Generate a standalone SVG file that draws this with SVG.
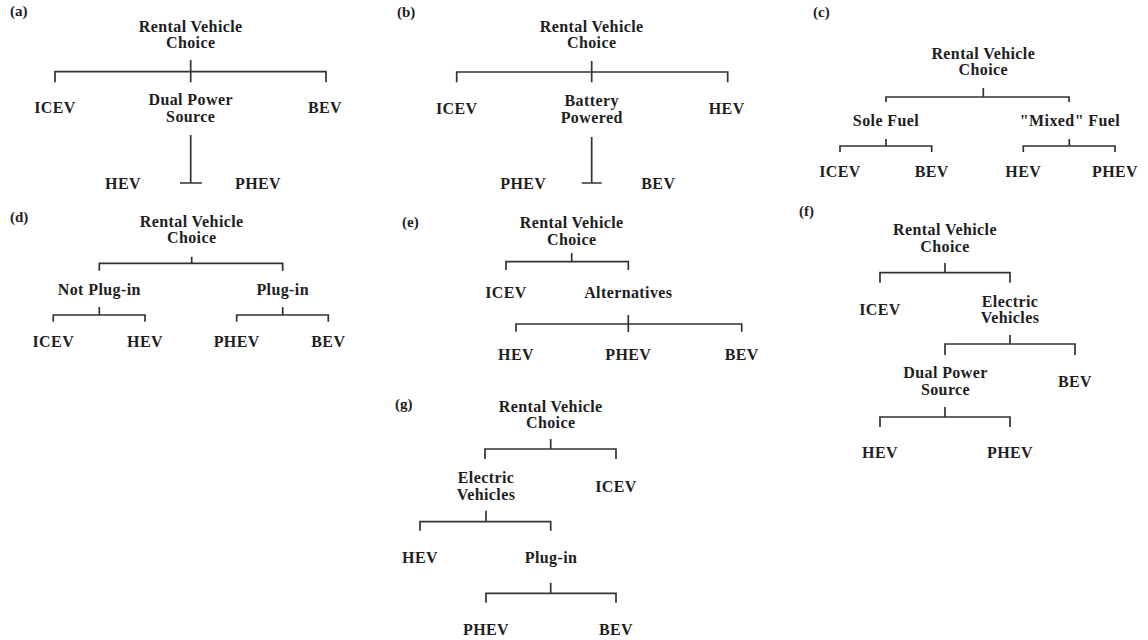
<svg xmlns="http://www.w3.org/2000/svg" width="1148" height="640" viewBox="0 0 1148 640">
<style>
text{font-family:"Liberation Serif","Times New Roman",serif;font-weight:bold;fill:#1e1e1e;}
.n{font-size:16px;text-anchor:middle;letter-spacing:0.4px;}
.lb{font-size:15px;}
.c path{fill:none;stroke:#333;stroke-width:1.7;}
</style>
<rect width="1148" height="640" fill="#fff"/>
<g id="labels">
<text class="lb" x="10" y="15.5">(a)</text>
<text class="lb" x="397" y="17">(b)</text>
<text class="lb" x="813" y="17">(c)</text>
<text class="lb" x="10" y="222">(d)</text>
<text class="lb" x="402" y="227">(e)</text>
<text class="lb" x="799" y="215.5">(f)</text>
<text class="lb" x="395" y="409">(g)</text>
</g>
<g class="c" id="connectors">
<!-- a -->
<path d="M190.7 60V82.3M55 82.3V71.7H326V82.3"/>
<path d="M190.7 135V183M180 183H202"/>
<!-- b -->
<path d="M591.7 61V82.3M456.7 82.3V72H727.7V82.3"/>
<path d="M591.7 137V183M581.7 183H601.7"/>
<!-- c -->
<path d="M983.3 88V97M886 102V97H1069V102"/>
<path d="M886 139V146M840 152V146H931.7V152"/>
<path d="M1069.3 139V146M1023.3 152V146H1115V152"/>
<!-- d -->
<path d="M191.7 256.7V263.3M99.3 270.7V263.3H282.7V270.7"/>
<path d="M99.3 307V315M53.3 321.7V315H145V321.7"/>
<path d="M282.7 307V315M236.7 321.7V315H328.3V321.7"/>
<!-- e -->
<path d="M571.7 253V261.7M506 270V261.7H628.3V270"/>
<path d="M628.3 315V332M516 331.7V324H741.7V331.7"/>
<!-- f -->
<path d="M945 263V272.7M880 282.7V272.7H1010V282.7"/>
<path d="M1010 335V344M945 355V344H1075V355"/>
<path d="M945 407V417M880 427V417H1010V427"/>
<!-- g -->
<path d="M550.7 439V449M485 459V449H616V459"/>
<path d="M486 510.7V521.7M420 530.7V521.7H550.7V530.7"/>
<path d="M550.7 582.7V593.3M486 602.7V593.3H616V602.7"/>
</g>
<!-- panel a -->
<g id="a-root"><text class="n" x="190.7" y="31.5">Rental Vehicle</text><text class="n" x="190.7" y="48">Choice</text></g>
<g id="a-icev"><text class="n" x="55" y="113">ICEV</text></g>
<g id="a-dual"><text class="n" x="190.7" y="105">Dual Power</text><text class="n" x="190.7" y="121.7">Source</text></g>
<g id="a-bev"><text class="n" x="325" y="113">BEV</text></g>
<g id="a-hev"><text class="n" x="123" y="189">HEV</text></g>
<g id="a-phev"><text class="n" x="258" y="189">PHEV</text></g>
<!-- panel b -->
<g id="b-root"><text class="n" x="591.7" y="31.5">Rental Vehicle</text><text class="n" x="591.7" y="48">Choice</text></g>
<g id="b-icev"><text class="n" x="456.7" y="114">ICEV</text></g>
<g id="b-batt"><text class="n" x="591.7" y="106">Battery</text><text class="n" x="591.7" y="123">Powered</text></g>
<g id="b-hev"><text class="n" x="726.7" y="114">HEV</text></g>
<g id="b-phev"><text class="n" x="523.3" y="189">PHEV</text></g>
<g id="b-bev"><text class="n" x="658.3" y="189">BEV</text></g>
<!-- panel c -->
<g id="c-root"><text class="n" x="983.3" y="58.5">Rental Vehicle</text><text class="n" x="983.3" y="75">Choice</text></g>
<g id="c-sole"><text class="n" x="886" y="126">Sole Fuel</text></g>
<g id="c-mixed"><text class="n" x="1070" y="126">"Mixed" Fuel</text></g>
<g id="c-icev"><text class="n" x="840" y="177">ICEV</text></g>
<g id="c-bev"><text class="n" x="931.7" y="177">BEV</text></g>
<g id="c-hev"><text class="n" x="1023.3" y="177">HEV</text></g>
<g id="c-phev"><text class="n" x="1115" y="177">PHEV</text></g>
<!-- panel d -->
<g id="d-root"><text class="n" x="191.7" y="226.5">Rental Vehicle</text><text class="n" x="191.7" y="243">Choice</text></g>
<g id="d-notplug"><text class="n" x="99.3" y="294.5">Not Plug-in</text></g>
<g id="d-plug"><text class="n" x="282.7" y="294.5">Plug-in</text></g>
<g id="d-icev"><text class="n" x="53.3" y="346.5">ICEV</text></g>
<g id="d-hev"><text class="n" x="145" y="346.5">HEV</text></g>
<g id="d-phev"><text class="n" x="236.7" y="346.5">PHEV</text></g>
<g id="d-bev"><text class="n" x="328.3" y="346.5">BEV</text></g>
<!-- panel e -->
<g id="e-root"><text class="n" x="571.7" y="228">Rental Vehicle</text><text class="n" x="571.7" y="245">Choice</text></g>
<g id="e-icev"><text class="n" x="506" y="298">ICEV</text></g>
<g id="e-alt"><text class="n" x="628.3" y="298">Alternatives</text></g>
<g id="e-hev"><text class="n" x="516" y="360">HEV</text></g>
<g id="e-phev"><text class="n" x="628.3" y="360">PHEV</text></g>
<g id="e-bev"><text class="n" x="741.7" y="360">BEV</text></g>
<!-- panel f -->
<g id="f-root"><text class="n" x="945" y="235">Rental Vehicle</text><text class="n" x="945" y="251.5">Choice</text></g>
<g id="f-icev"><text class="n" x="880" y="315">ICEV</text></g>
<g id="f-ev"><text class="n" x="1010" y="306.5">Electric</text><text class="n" x="1010" y="323">Vehicles</text></g>
<g id="f-dual"><text class="n" x="945.5" y="378">Dual Power</text><text class="n" x="945.5" y="395">Source</text></g>
<g id="f-bev"><text class="n" x="1075" y="386.5">BEV</text></g>
<g id="f-hev"><text class="n" x="880" y="458">HEV</text></g>
<g id="f-phev"><text class="n" x="1010" y="458">PHEV</text></g>
<!-- panel g -->
<g id="g-root"><text class="n" x="550.7" y="411.5">Rental Vehicle</text><text class="n" x="550.7" y="428">Choice</text></g>
<g id="g-ev"><text class="n" x="486" y="483">Electric</text><text class="n" x="486" y="500">Vehicles</text></g>
<g id="g-icev"><text class="n" x="616" y="491.5">ICEV</text></g>
<g id="g-hev"><text class="n" x="420" y="563">HEV</text></g>
<g id="g-plug"><text class="n" x="551" y="563">Plug-in</text></g>
<g id="g-phev"><text class="n" x="486" y="635">PHEV</text></g>
<g id="g-bev"><text class="n" x="616" y="635">BEV</text></g>
</svg>
